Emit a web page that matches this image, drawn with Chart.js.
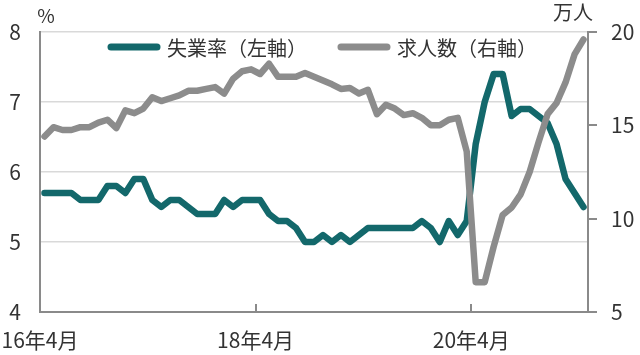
<!DOCTYPE html>
<html lang="ja">
<head>
<meta charset="utf-8">
<script src="https://cdn.jsdelivr.net/npm/chart.js@4"></script>
<style>
  html, body { margin: 0; padding: 0; background: #fff; }
  #wrap { width: 640px; height: 355px; }
</style>
</head>
<body>
<div id="wrap"><canvas id="chart" width="640" height="355"></canvas></div>
<script>
// 失業率（左軸）と求人数（右軸）, monthly 16年4月 - 21年4月

const FONT = '"Noto Sans CJK JP", "Noto Sans", sans-serif';
const TEAL = '#13686b';
const GREY = '#8c8c8c';
const AXIS = '#8a8a8a';
const TEXT = '#333333';

// month categories: 16年4月 ... 21年4月
const startYear = 16, startMonth = 4, monthCount = 61;
const months = Array.from({length: monthCount}, (_, i) => {
    const m = startMonth - 1 + i;
    return `${startYear + Math.floor(m / 12)}年${m % 12 + 1}月`;
});

const seriesLabels = ['失業率（左軸）', '求人数（右軸）'];

// 失業率, %
const unemployment = [
    5.7, 5.7, 5.7, 5.7, 5.6, 5.6, 5.6, 5.8, 5.8, 5.7,
    5.9, 5.9, 5.6, 5.5, 5.6, 5.6, 5.5, 5.4, 5.4, 5.4,
    5.6, 5.5, 5.6, 5.6, 5.6, 5.4, 5.3, 5.3, 5.2, 5.0,
    5.0, 5.1, 5.0, 5.1, 5.0, 5.1, 5.2, 5.2, 5.2, 5.2,
    5.2, 5.2, 5.3, 5.2, 5.0, 5.3, 5.1, 5.3, 6.4, 7.0,
    7.4, 7.4, 6.8, 6.9, 6.9, 6.8, 6.7, 6.4, 5.9, 5.7,
    5.5
];

// 求人数, 万人
const jobAds = [
    14.4, 14.9, 14.75, 14.75, 14.9, 14.9, 15.15, 15.3, 14.85, 15.8,
    15.65, 15.9, 16.5, 16.3, 16.45, 16.6, 16.85, 16.85, 16.95, 17.05,
    16.7, 17.5, 17.9, 18.0, 17.75, 18.3, 17.6, 17.6, 17.6, 17.8,
    17.6, 17.4, 17.2, 16.95, 17.0, 16.7, 16.9, 15.6, 16.1, 15.9,
    15.55, 15.65, 15.4, 15.0, 15.0, 15.3, 15.4, 13.6, 6.6, 6.6,
    8.5, 10.2, 10.6, 11.3, 12.5, 14.1, 15.6, 16.2, 17.3, 18.8,
    19.6
];

const leftAxis = {min: 4, max: 8, step: 1};
const rightAxis = {min: 5, max: 20, step: 5};
const xTickEvery = 24; // 16年4月, 18年4月, 20年4月

// each month is plotted in the middle of its slot, ticks sit on month starts
const toPoints = arr => arr.map((v, i) => ({x: i + 0.5, y: v}));

// unit captions above the two value axes
const unitLabels = {
    id: 'unitLabels',
    afterDraw(chart) {
        const {ctx, chartArea} = chart;
        ctx.save();
        ctx.fillStyle = TEXT;
        ctx.textAlign = 'center';
        ctx.textBaseline = 'middle';
        ctx.font = `19px ${FONT}`;
        ctx.fillText('%', chartArea.left + 6, 16);
        ctx.font = `20px ${FONT}`;
        ctx.fillText('万人', chartArea.right - 15, 12);
        ctx.restore();
    }
};

// one-row legend inside the top of the plot
const insideLegend = {
    id: 'insideLegend',
    beforeDatasetsDraw(chart) {
        const {ctx, chartArea} = chart;
        let x = chartArea.left + 71;
        const y = chartArea.top + 15;
        ctx.save();
        ctx.font = `20px ${FONT}`;
        ctx.textBaseline = 'middle';
        ctx.lineCap = 'round';
        ctx.lineWidth = 7;
        chart.data.datasets.forEach(ds => {
            ctx.strokeStyle = ds.borderColor;
            ctx.beginPath();
            ctx.moveTo(x, y);
            ctx.lineTo(x + 46, y);
            ctx.stroke();
            ctx.fillStyle = TEXT;
            ctx.fillText(ds.label, x + 56, y + 1);
            x += 56 + ctx.measureText(ds.label).width + 34;
        });
        ctx.restore();
    }
};

new Chart(document.getElementById('chart'), {
    type: 'line',
    data: {
        datasets: [
            {
                label: seriesLabels[0],
                data: toPoints(unemployment),
                yAxisID: 'y',
                borderColor: TEAL,
                backgroundColor: TEAL,
                borderWidth: 6.5,
                order: 1
            },
            {
                label: seriesLabels[1],
                data: toPoints(jobAds),
                yAxisID: 'y1',
                borderColor: GREY,
                backgroundColor: GREY,
                borderWidth: 6.5,
                order: 0
            }
        ]
    },
    options: {
        responsive: false,
        animation: false,
        devicePixelRatio: 1,
        layout: { padding: { top: 32, left: 0, right: 0, bottom: 0 } },
        elements: {
            point: { radius: 0 },
            line: { tension: 0, borderJoinStyle: 'round', borderCapStyle: 'round' }
        },
        plugins: {
            tooltip: { enabled: false },
            legend: { display: false }
        },
        scales: {
            x: {
                type: 'linear',
                min: 0,
                max: monthCount,
                afterFit: s => { s.height = 43; s.paddingLeft = 0; s.paddingRight = 0; },
                ticks: {
                    stepSize: xTickEvery,
                    includeBounds: false,
                    autoSkip: false,
                    maxRotation: 0,
                    padding: 23,
                    color: TEXT,
                    font: { family: FONT, size: 21 },
                    callback: v => months[v]
                },
                grid: { drawOnChartArea: false, drawTicks: true, tickLength: -8, color: AXIS, lineWidth: 2 },
                border: { color: AXIS, width: 2 }
            },
            y: {
                position: 'left',
                min: leftAxis.min,
                max: leftAxis.max,
                afterFit: s => { s.width = 40; },
                ticks: {
                    stepSize: leftAxis.step,
                    padding: 19,
                    color: TEXT,
                    font: { family: FONT, size: 21 }
                },
                grid: { color: '#d9d9d9', lineWidth: 1.5, drawTicks: false },
                border: { color: AXIS, width: 2 }
            },
            y1: {
                position: 'right',
                min: rightAxis.min,
                max: rightAxis.max,
                afterFit: s => { s.width = 52; },
                ticks: {
                    stepSize: rightAxis.step,
                    padding: 14,
                    color: TEXT,
                    font: { family: FONT, size: 21 }
                },
                grid: { drawOnChartArea: false, drawTicks: true, tickLength: 9, color: AXIS, lineWidth: 2 },
                border: { color: AXIS, width: 2 }
            }
        }
    },
    plugins: [unitLabels, insideLegend]
});
</script>
</body>
</html>
